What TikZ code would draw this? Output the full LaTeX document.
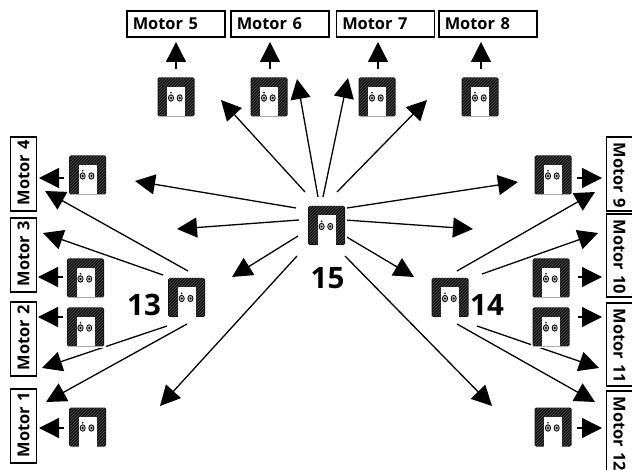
\documentclass[tikz,border=0pt]{standalone}
\usepackage{fontspec}
\setmainfont{Open Sans}
\usetikzlibrary{arrows.meta,patterns}
\newcommand{\mtext}[1]{\mbox{\raisebox{-1pt}{#1}}}
\tikzset{
  x=1pt,y=-1pt,
  mbox/.style={draw=black,line width=1.2pt,fill=white,inner xsep=0pt,inner ysep=0pt,
    minimum width=#1,text width=#1-11.5pt,minimum height=26pt,align=left,
    font=\fontsize{16.4}{18}\selectfont\bfseries,text=black},
  con/.style={draw=black,line width=1.3pt,-{Triangle[length=20pt,width=20pt]}},
  dev/.pic={
    \fill[white] (-20,-21) rectangle (20,21);
    \fill[rounded corners=1.5pt,black!92] (-18.5,-19.5) rectangle (18.5,19.5);
    \fill[pattern=north east lines,pattern color=black!68] (-17.5,-18.5) rectangle (17.5,18.5);
    \fill[white] (-9,-10) rectangle (9,19.5);
    \draw[black,line width=.8pt,fill=black!25] (-5,1) ellipse [x radius=2.6pt,y radius=3.2pt];
    \draw[black,line width=.8pt,fill=black!25] (3.7,1) ellipse [x radius=2.6pt,y radius=3.2pt];
    \fill[black] (-5,-4.2) circle[radius=.9pt];
    \fill[black] (-5,1) circle[radius=1.1pt];
    \fill[black] (3.7,1) circle[radius=1.1pt];
  },
  numlab/.style={font=\fontsize{29.5}{31}\selectfont\bfseries,inner sep=0pt,text=black}
}
\begin{document}
\begin{tikzpicture}
\useasboundingbox (0,0) rectangle (632,470);
% motors, top row
\node[mbox=98pt] (m5) at (176,24) {\mtext{Motor 5}};
\node[mbox=98pt] (m6) at (280,24) {\mtext{Motor 6}};
\node[mbox=98pt] (m7) at (385.5,24) {\mtext{Motor 7}};
\node[mbox=98pt] (m8) at (488,24) {\mtext{Motor 8}};
% motors, left column
\node[mbox=74pt,rotate=90] (m4) at (23.5,174) {\mtext{Motor 4}};
\node[mbox=74pt,rotate=90] (m3) at (23.5,255) {\mtext{Motor 3}};
\node[mbox=74pt,rotate=90] (m2) at (23.5,339) {\mtext{Motor 2}};
\node[mbox=74pt,rotate=90] (m1) at (23.5,426) {\mtext{Motor 1}};
% motors, right column
\node[mbox=74pt,rotate=-90] (m9) at (619.5,174) {\mtext{Motor 9}};
\node[mbox=83pt,rotate=-90] (m10) at (619.5,255.5) {\mtext{Motor 10}};
\node[mbox=83pt,rotate=-90] (m11) at (619.5,344.5) {\mtext{Motor 11}};
\node[mbox=83pt,rotate=-90] (m12) at (619.5,432.5) {\mtext{Motor 12}};
% connectors
\foreach \n/\sx/\sy/\tx/\ty in {
  a/305/192/221/100, b/318/197/297/79, c/323/197/348/78, d/337/192/427/100,
  e/296/208/135/181, f/299/220/177/229, g/298/236/232/277, h/297/256/160/406,
  i/347/208/518/182, j/345/220/473/229, k/345/236/414/277, l/345/256/492/406,
  n/188/271/45/191, o/163/275/43/233, p/167/326/42/368, q/187/324/46/402,
  r/457/271/595/192, s/482/274/598/233, t/477/326/599/368, u/457/324/595/402,
  v/176/69/176/42, w/270/69/270/42, x/378/69/378/42, y/481/69/481/42,
  z/64/178/39/178, aa/63/277/38/277, ab/63/317/38/317, ac/64/428/39/428,
  ad/577/178/602/178, ae/578/277/602/277, af/578/317/602/317, ag/577/428/602/428}{
  \coordinate (s\n) at (\sx,\sy);
  \coordinate (t\n) at (\tx,\ty);
  \draw[con] (s\n) -- (t\n);
}
% devices
\pic (d5) at (176,97) {dev};
\pic (d6) at (269,97) {dev};
\pic (d7) at (377,97) {dev};
\pic (d8) at (480,97) {dev};
\pic (d4) at (87.7,175) {dev};
\pic (d3) at (85.5,278) {dev};
\pic (d2) at (85.5,327) {dev};
\pic (d1) at (87.7,427) {dev};
\pic (d9) at (553,175) {dev};
\pic (d10) at (551,278) {dev};
\pic (d11) at (551,327) {dev};
\pic (d12) at (553,427) {dev};
\pic (d13) at (186.7,297.5) {dev};
\pic (d14) at (450,297.5) {dev};
\pic (d15) at (326.6,225.5) {dev};
% numbers
\node[numlab] (n13) at (144,305) {13};
\node[numlab] (n14) at (487,305) {14};
\node[numlab] (n15) at (327.5,278) {15};
\end{tikzpicture}
\end{document}
